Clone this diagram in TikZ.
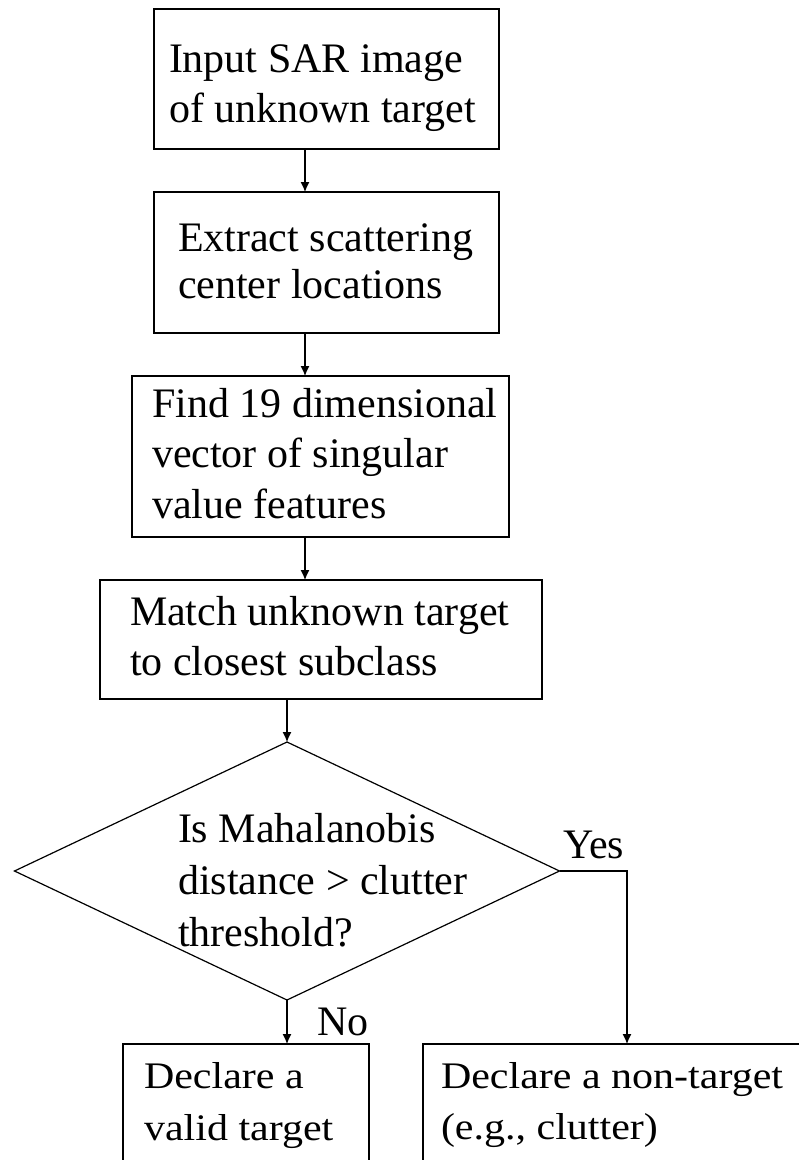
\documentclass[tikz,border=0pt]{standalone}
\usepackage{fontspec}
\setmainfont{Liberation Serif}
\newfontfamily\widefont[FakeStretch=1.12]{Liberation Serif}
\usetikzlibrary{shapes.geometric,arrows.meta,calc}
\newcommand\firstrule{\rule{0pt}{30pt}}
\tikzset{
  box/.style={draw, line width=1.2pt, rectangle, inner sep=0pt, outer sep=0pt, anchor=north west},
  txt/.style={anchor=north west, inner sep=0pt, outer sep=0pt, align=left},
  lbl/.style={anchor=base west, inner sep=0pt, outer sep=0pt, font=\fontsize{42}{50}\selectfont},
  conn/.style={line width=1.2pt, -{Latex[length=10pt,width=9pt]}},
}
\begin{document}
\begin{tikzpicture}[x=1pt,y=-1pt]
\clip (0,0) rectangle (799,1160);
\fill[white] (0,0) rectangle (799,1160);
% boxes
\node[box, minimum width=345pt, minimum height=140pt] (b1) at (154,9) {};
\node[box, minimum width=345pt, minimum height=141pt] (b2) at (154,192) {};
\node[box, minimum width=377pt, minimum height=161pt] (b3) at (132,376) {};
\node[box, minimum width=442pt, minimum height=119pt] (b4) at (100,580) {};
\node[draw, diamond, line width=1.2pt, inner sep=0pt, outer sep=0pt,
      minimum width=545pt, minimum height=258pt] (d) at (287,871) {};
\node[box, minimum width=246pt, minimum height=200pt] (b5) at (123,1044) {};
\node[box, minimum width=500pt, minimum height=200pt] (b6) at (423,1044) {};
% texts
\node[txt, font=\fontsize{42}{50}\selectfont] (t1) at (169,42)
  {\firstrule Input SAR image\\of unknown target};
\node[txt, font=\fontsize{42}{47}\selectfont] (t2) at (178,221)
  {\firstrule Extract scattering\\center locations};
\node[txt, font=\fontsize{42}{50.5}\selectfont] (t3) at (152,387)
  {\firstrule Find 19 dimensional\\vector of singular\\value features};
\node[txt, font=\fontsize{42}{50}\selectfont] (t4) at (130,595)
  {\firstrule Match unknown target\\to closest subclass};
\node[txt, font=\fontsize{42}{52}\selectfont] (t5) at (178,812)
  {\firstrule Is Mahalanobis\\distance > clutter\\threshold?};
\node[txt, font=\widefont\fontsize{37.5}{52}\selectfont] (t6) at (144,1058)
  {\firstrule Declare a\\valid target};
\node[txt, font=\widefont\fontsize{37.5}{51}\selectfont] (t7) at (441,1058)
  {\firstrule Declare a non-target\\(e.g., clutter)};
\node[lbl] (yes) at (563,858) {Yes};
\node[lbl] (no) at (317,1035) {No};
% connectors
\coordinate (ax) at (305,0);
\coordinate (yx) at (627,0);
\draw[conn] (b1.south -| ax) -- (b2.north -| ax);
\draw[conn] (b2.south -| ax) -- (b3.north -| ax);
\draw[conn] (b3.south -| ax) -- (b4.north -| ax);
\draw[conn] (b4.south -| d.north) -- (d.north);
\draw[conn] (d.south) -- (d.south |- b5.north);
\draw[conn] (d.east) -| (yx |- b6.north);
\end{tikzpicture}
\end{document}
